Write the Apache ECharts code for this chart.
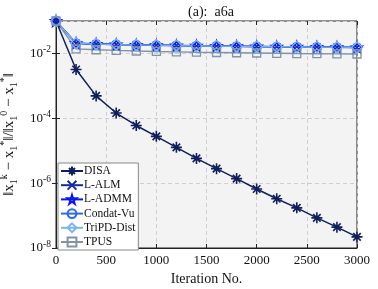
<!DOCTYPE html>
<html>
<head>
<meta charset="utf-8">
<script src="https://cdn.jsdelivr.net/npm/echarts@6/dist/echarts.min.js"></script>
<style>html,body{margin:0;padding:0;background:#fff}#c{width:378px;height:289px}</style>
</head>
<body>
<div id="c"></div>
<script>
var iterations = [0,200,400,600,800,1000,1200,1400,1600,1800,2000,2200,2400,2600,2800,3000];
var disa     = [0.1,3.2e-3,4.9e-4,1.45e-4,6.0e-5,2.77e-5,1.27e-5,5.8e-6,2.8e-6,1.38e-6,6.6e-7,3.3e-7,1.73e-7,8.5e-8,4.4e-8,2.2e-8];
var lalm     = [0.1,0.0205,0.0195,0.0188,0.0183,0.0179,0.0175,0.0171,0.0168,0.0165,0.0163,0.0161,0.0159,0.0157,0.0155,0.0153];
var ladmm    = [0.1,0.0207,0.0196,0.0189,0.0184,0.0180,0.0176,0.0172,0.0169,0.0166,0.0164,0.0162,0.0160,0.0158,0.0156,0.0154];
var condat   = [0.1,0.0204,0.0194,0.0187,0.0182,0.0178,0.0174,0.0170,0.0167,0.0164,0.0162,0.0160,0.0158,0.0156,0.0154,0.0152];
var tripd    = [0.1,0.0206,0.0195,0.0188,0.0183,0.0179,0.0175,0.0171,0.0168,0.0165,0.0163,0.0161,0.0159,0.0157,0.0155,0.0153];
var tpus     = [0.1,0.0138,0.0130,0.0124,0.0119,0.0115,0.0112,0.0109,0.0107,0.0105,0.0103,0.0101,0.0099,0.0098,0.0097,0.0096];
var xTicks = [0,500,1000,1500,2000,2500,3000];
var yTickExps = [-8,-6,-4,-2];

function pairs(v){ return iterations.map(function(x,i){ return [x, v[i]]; }); }

var FONT = '"Liberation Serif","DejaVu Serif",serif';
var asterisk = 'path://M5,0L5,10M0,5L10,5M1.6,1.6L8.4,8.4M8.4,1.6L1.6,8.4';
var cross = 'path://M0,0L10,10M10,0L0,10';
var star = 'path://M5,0L6.123,3.455L9.755,3.455L6.816,5.590L7.939,9.045L5,6.91L2.061,9.045L3.184,5.590L0.245,3.455L3.877,3.455Z';
var TR = 'rgba(0,0,0,0)';

function mk(name, data, color, symbol, size, lw, bw){
  return {
    name: name, type: 'line', data: pairs(data), symbol: symbol, symbolSize: size,
    lineStyle: {color: color, width: lw},
    itemStyle: {color: TR, borderColor: color, borderWidth: bw},
    emphasis: {disabled: true}, animation: false, z: 3
  };
}

var yName = '{n|‖x}{sb|1}{sp|k}{n| − x}{sb|1}{sp|*}{n|‖/‖x}{sb|1}{sp|0}{n| − x}{sb|1}{sp|*}{n|‖}';

var chart = echarts.init(document.getElementById('c'), null, {renderer: 'canvas'});
chart.setOption({
  backgroundColor: '#fff',
  animation: false,
  title: {
    text: '(a):  a6a', left: 206, top: 0, textAlign: 'center',
    textStyle: {fontFamily: FONT, fontSize: 14, fontWeight: 'normal', color: '#111'}
  },
  grid: {left: 56, right: 21, top: 21, bottom: 41, outerBoundsMode: 'none', containLabel: false,
    show: true, backgroundColor: '#f3f3f3', borderColor: '#222', borderWidth: 1},
  legend: {
    orient: 'vertical', left: 58, top: 163,
    itemWidth: 22, itemHeight: 11, itemGap: 2.2,
    padding: [2, 3, 2, 2],
    backgroundColor: '#fff', borderColor: '#888', borderWidth: 1, borderRadius: 0,
    textStyle: {fontFamily: FONT, fontSize: 11.5, color: '#111', padding: [0,0,0,-4]},
    data: ['DISA','L-ALM','L-ADMM','Condat-Vu','TriPD-Dist','TPUS']
  },
  xAxis: [{
    type: 'value', min: 0, max: 3000, interval: 500,
    name: 'Iteration No.', nameLocation: 'middle', nameGap: 23,
    nameTextStyle: {fontFamily: FONT, fontSize: 14, color: '#111'},
    axisLine: {show: true, lineStyle: {color: '#222'}},
    axisTick: {show: true, inside: true, length: 4, lineStyle: {color: '#222'}},
    axisLabel: {fontFamily: FONT, fontSize: 13, color: '#111', margin: 6,
      formatter: function(v){ return xTicks.indexOf(v) >= 0 ? String(v) : ''; }},
    splitLine: {show: true, lineStyle: {color: '#cfcfcf', type: [4,3], width: 1}}
  },{
    type: 'value', min: 0, max: 3000, interval: 500, position: 'top',
    axisLine: {show: false},
    axisTick: {show: true, inside: true, length: 4, lineStyle: {color: '#222'}},
    axisLabel: {show: false}, splitLine: {show: false}
  }],
  yAxis: [{
    type: 'log', logBase: 10, min: 1e-8, max: 1e-1, interval: 2,
    name: yName, nameLocation: 'middle', nameGap: 34,
    nameTextStyle: {
      color: '#111',
      rich: {
        n: {fontFamily: FONT, fontSize: 15, color: '#111', lineHeight: 20},
        sb: {fontFamily: FONT, fontSize: 10, color: '#111', verticalAlign: 'bottom', lineHeight: 20},
        sp: {fontFamily: FONT, fontSize: 10, color: '#111', verticalAlign: 'top', lineHeight: 20}
      }
    },
    axisLine: {show: true, lineStyle: {color: '#222'}},
    axisTick: {show: true, inside: true, length: 4, lineStyle: {color: '#222'}},
    minorTick: {show: false},
    axisLabel: {
      margin: 5, color: '#111',
      formatter: function(v){
        var e = Math.round(Math.log(v)/Math.LN10);
        if (yTickExps.indexOf(e) < 0) return '';
        return '{b|10}{s|' + e + '}';
      },
      rich: {
        b: {fontFamily: FONT, fontSize: 13, color: '#111'},
        s: {fontFamily: FONT, fontSize: 9.5, color: '#111', verticalAlign: 'top', padding: [0,0,8,0]}
      }
    },
    splitLine: {show: true, lineStyle: {color: '#cfcfcf', type: [4,3], width: 1}}
  },{
    type: 'log', logBase: 10, min: 1e-8, max: 1e-1, interval: 2, position: 'right',
    axisLine: {show: false},
    axisTick: {show: true, inside: true, length: 4, lineStyle: {color: '#222'}},
    axisLabel: {show: false}, splitLine: {show: false}
  }],
  series: [
    mk('DISA', disa, '#0f1f5c', asterisk, 11, 1.5, 1.6),
    mk('L-ALM', lalm, '#1a2a9a', cross, 7, 1.4, 1.3),
    mk('L-ADMM', ladmm, '#0a14f0', star, 11, 1.4, 1.3),
    mk('Condat-Vu', condat, '#2f6be0', 'circle', 9, 1.2, 1.3),
    mk('TriPD-Dist', tripd, '#79b4f4', 'diamond', 11, 1.2, 1.3),
    mk('TPUS', tpus, '#7f93aa', 'rect', 8, 1.4, 1.3)
  ]
});
</script>
</body>
</html>
